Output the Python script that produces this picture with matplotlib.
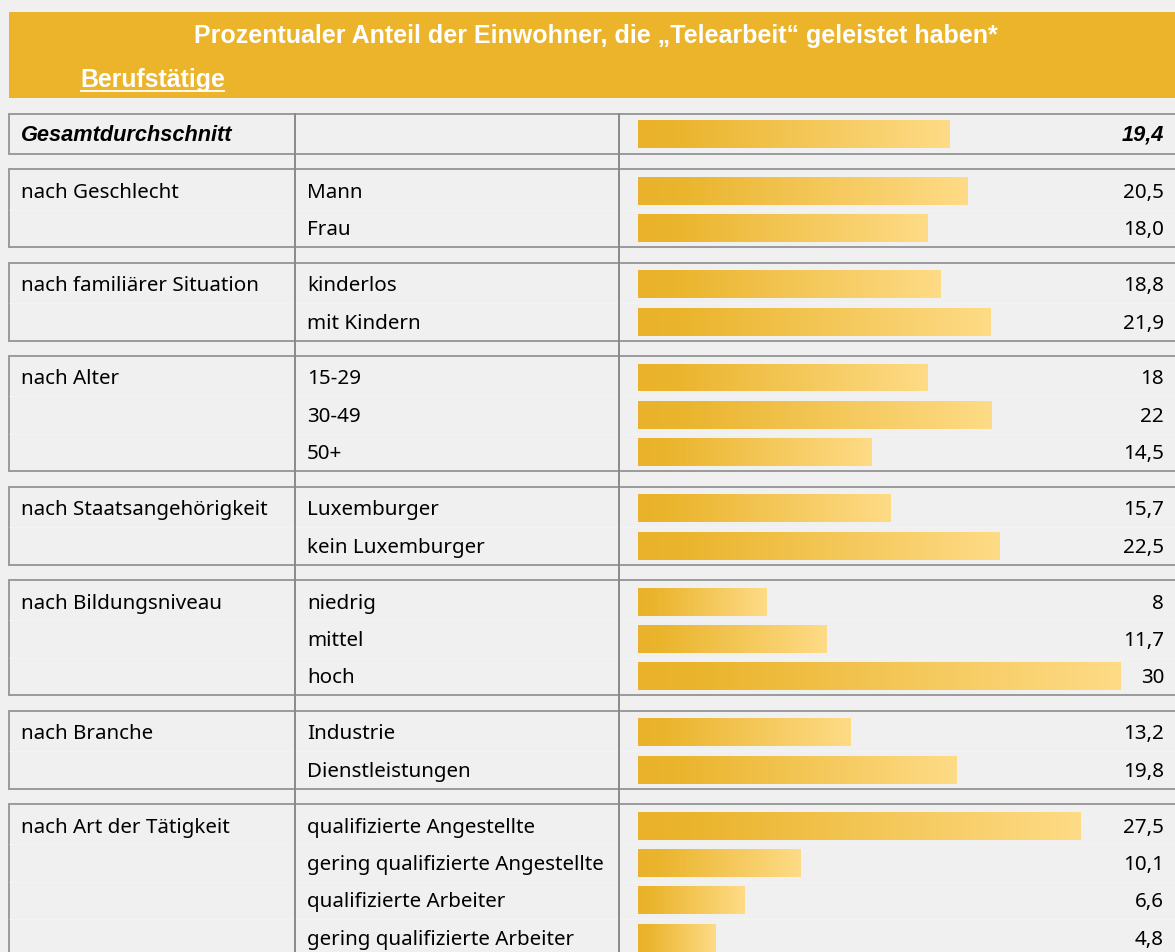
import numpy as np
import matplotlib
matplotlib.use("Agg")
import matplotlib.pyplot as plt
import matplotlib.font_manager as fm
from matplotlib.colors import LinearSegmentedColormap

# --- data ---
title = "Prozentualer Anteil der Einwohner, die \u201eTelearbeit\u201c geleistet haben*"
subtitle = "Berufstätige"

total_label = "Gesamtdurchschnitt"
total_value = 19.4
total_text = "19,4"

groups = ["nach Geschlecht", "nach familiärer Situation", "nach Alter",
          "nach Staatsangehörigkeit", "nach Bildungsniveau", "nach Branche",
          "nach Art der Tätigkeit"]
sub_labels = [
    ["Mann", "Frau"],
    ["kinderlos", "mit Kindern"],
    ["15-29", "30-49", "50+"],
    ["Luxemburger", "kein Luxemburger"],
    ["niedrig", "mittel", "hoch"],
    ["Industrie", "Dienstleistungen"],
    ["qualifizierte Angestellte", "gering qualifizierte Angestellte",
     "qualifizierte Arbeiter", "gering qualifizierte Arbeiter"],
]
values = [
    [20.5, 18.0],
    [18.8, 21.9],
    [18, 22, 14.5],
    [15.7, 22.5],
    [8, 11.7, 30],
    [13.2, 19.8],
    [27.5, 10.1, 6.6, 4.8],
]
value_texts = [
    ["20,5", "18,0"],
    ["18,8", "21,9"],
    ["18", "22", "14,5"],
    ["15,7", "22,5"],
    ["8", "11,7", "30"],
    ["13,2", "19,8"],
    ["27,5", "10,1", "6,6", "4,8"],
]

# --- style / layout (pixels) ---
W, H = 1175, 952
bg = "#f0f0f0"
gold = "#ebb42b"
line_c = "#9a9a9a"
grad = LinearSegmentedColormap.from_list(
    "g", [(0, "#e9b22a"), (0.12, "#eab42c"), (1, "#fedb86")])

avail = {f.name for f in fm.fontManager.ttflist}
body_font = ["Noto Sans" if "Noto Sans" in avail else "DejaVu Sans", "DejaVu Sans"]
bi_font = ["Liberation Sans", "DejaVu Sans"]
head_font = ["Liberation Sans Narrow" if "Liberation Sans Narrow" in avail
             else "Liberation Sans", "DejaVu Sans"]

x_left, x_c1, x_c2, x_right = 9, 295, 619, 1175
bar_x0 = 638
px_per_unit = 16.08
pitch = 37.45
spacer = 15.4
bar_h = 28

fig = plt.figure(figsize=(W / 100, H / 100), dpi=100, facecolor=bg)
ax = fig.add_axes([0, 0, 1, 1])
ax.set_xlim(0, W)
ax.set_ylim(H, 0)
ax.axis("off")

bx = fig.add_axes([bar_x0 / W, 0, (W - bar_x0) / W, 1])
bx.axis("off")
bx.patch.set_alpha(0)


def fit(txt, target):
    # scale a text's size so its width in pixels hits target
    fig.canvas.draw()
    w = txt.get_window_extent().width
    txt.set_fontsize(txt.get_fontsize() * target / w)


# body font size from the widest label in the reference (~298 px)
probe = ax.text(0, -50, "gering qualifizierte Angestellte", family=body_font,
                fontsize=13)
fit(probe, 298)
fs = probe.get_fontsize()
probe.remove()

# header band
ax.add_patch(plt.Rectangle((x_left, 12), W - x_left, 86, color=gold, lw=0))
t = ax.text(596, 43, title, color="white", fontweight="bold", family=head_font,
            fontsize=17, ha="center", va="baseline")
fit(t, 802)
s = ax.text(80, 87, subtitle, color="white", fontweight="bold",
            family=head_font, fontsize=16, va="baseline")
fit(s, 145)
fig.canvas.draw()
sb = s.get_window_extent()
ax.plot([sb.x0, sb.x1], [90.5, 90.5], color="white", lw=1.3,
        solid_capstyle="butt")


def hline(y):
    ax.plot([x_left, x_right], [y, y], color=line_c, lw=1.4,
            solid_capstyle="butt")


def box(top, bot):
    hline(top)
    hline(bot)
    ax.plot([x_left, x_left], [top, bot], color=line_c, lw=1.4)


def bar(yc, v):
    b = bx.barh(yc, v, height=bar_h, left=0, color="none", lw=0)[0]
    im = bx.imshow(np.linspace(0, 1, 256).reshape(1, -1), cmap=grad,
                   aspect="auto", extent=[0, v, yc + bar_h / 2, yc - bar_h / 2],
                   interpolation="bilinear", zorder=2)
    im.set_clip_path(b)


off = 7  # baseline below row centre

# total row
top, bot = 114, 154
box(top, bot)
yc = 134
tl = ax.text(21, yc + off, total_label, fontsize=fs, family=bi_font,
             fontweight="bold", style="italic", va="baseline")
fit(tl, 212)
ax.text(1164, yc + off, total_text, fontsize=tl.get_fontsize(), family=bi_font,
        fontweight="bold", style="italic", va="baseline", ha="right")
bar(yc, total_value)

top = bot + spacer
for g, labs, vals, vtx in zip(groups, sub_labels, values, value_texts):
    n = len(labs)
    bot = top + pitch * n + 3
    box(top, bot)
    for i, (lab, v, vt) in enumerate(zip(labs, vals, vtx)):
        yc = top + 21.5 + pitch * i
        if i > 0:
            ax.plot([x_left, x_right], [yc - pitch / 2] * 2, color="white",
                    lw=0.8, alpha=0.25)
        ax.text(307, yc + off, lab, fontsize=fs, family=body_font,
                va="baseline")
        bar(yc, v)
        ax.text(1164, yc + off, vt, fontsize=fs, family=body_font,
                va="baseline", ha="right")
    ax.text(21, top + 21.5 + off, g, fontsize=fs, family=body_font,
            va="baseline")
    top = bot + spacer

# column dividers
for x in (x_c1, x_c2):
    ax.plot([x, x], [114, H], color="#8a8a8a", lw=1.4)

bx.set_xlim(0, (W - bar_x0) / px_per_unit)
bx.set_ylim(H, 0)

fig.savefig("out.png", dpi=100, facecolor=bg)
